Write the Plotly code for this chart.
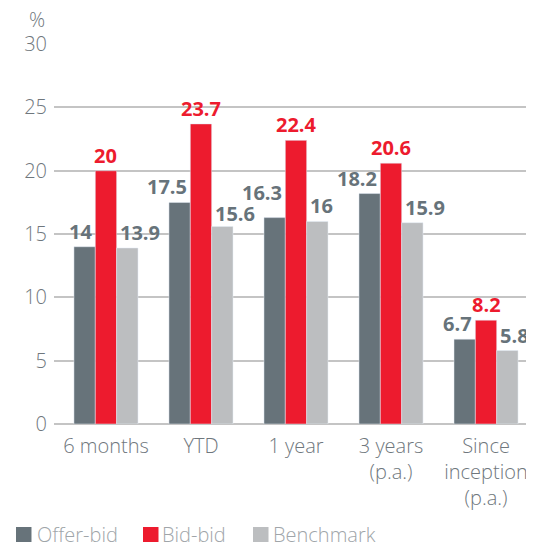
import plotly.graph_objects as go

categories = ["6 months", "YTD", "1 year", "3 years<br>(p.a.)", "Since<br>inception<br>(p.a.)"]
offer_bid = [14, 17.5, 16.3, 18.2, 6.7]
bid_bid = [20, 23.7, 22.4, 20.6, 8.2]
benchmark = [13.9, 15.6, 16, 15.9, 5.8]
series_names = ["Offer-bid", "Bid-bid", "Benchmark"]
y_ticks = [0, 5, 10, 15, 20, 25, 30]

C_OFFER = "#67737a"
C_BID = "#ed1b2e"
C_BENCH = "#bcbec0"
colors = [C_OFFER, C_BID, C_BENCH]
C_TEXT = "#6f777d"
C_LEG = "#a0a5a9"
GRID = "#c4c4c4"

FONT = "Open Sans"
FS = 20

fig = go.Figure()
for name, vals, col in zip(series_names, [offer_bid, bid_bid, benchmark], colors):
    fig.add_trace(go.Bar(name=name, x=categories, y=vals, marker_color=col, showlegend=False))

bargap = 0.326
bw = (1 - bargap) / 3
annos = []
for i in range(len(categories)):
    # simple collision rule: lift an offer-bid label if it sits close to the
    # previous group's benchmark label
    lift = 0
    drop = 0
    if i > 0 and abs(offer_bid[i] - benchmark[i - 1]) < 1.2:
        lift = 10
    if i + 1 < len(categories) and abs(offer_bid[i + 1] - benchmark[i]) < 1.2:
        drop = -3
    annos.append(dict(x=i - bw / 2, y=offer_bid[i], text=f"{offer_bid[i]:g}", xanchor="right",
                      yanchor="bottom", showarrow=False, xshift=-1, yshift=lift,
                      font=dict(family=FONT, size=FS, color=C_OFFER, weight=700)))
    annos.append(dict(x=i, y=bid_bid[i], text=f"{bid_bid[i]:g}", xanchor="center",
                      yanchor="bottom", showarrow=False,
                      font=dict(family=FONT, size=FS, color=C_BID, weight=700)))
    annos.append(dict(x=i + bw / 2, y=benchmark[i], text=f"{benchmark[i]:g}", xanchor="left",
                      yanchor="bottom", showarrow=False, xshift=1, yshift=drop,
                      font=dict(family=FONT, size=FS, color=C_OFFER, weight=700)))

annos.append(dict(xref="paper", yref="paper", x=-0.015, y=1.0645, text="%", xanchor="right",
                  yanchor="middle", showarrow=False,
                  font=dict(family=FONT, size=FS, color=C_TEXT, weight=300)))

# custom legend (squares + labels) below the plot
leg_sq_x = [-0.0792, 0.1854, 0.4146]
leg_txt_x = [-0.0396, 0.2208, 0.4521]
shapes = []
for name, col, sx, tx in zip(series_names, colors, leg_sq_x, leg_txt_x):
    shapes.append(dict(type="rect", xref="paper", yref="paper", x0=sx, x1=sx + 0.0323,
                       y0=-0.3105, y1=-0.2711, fillcolor=col, line=dict(width=0)))
    annos.append(dict(xref="paper", yref="paper", x=tx, y=-0.2921, text=name, xanchor="left",
                      yanchor="middle", showarrow=False,
                      font=dict(family=FONT, size=FS, color=C_LEG, weight=300)))

fig.update_layout(
    width=526, height=538,
    margin=dict(l=46, r=0, t=36, b=122, autoexpand=False),
    paper_bgcolor="white", plot_bgcolor="white",
    barmode="group", bargap=bargap, bargroupgap=0,
    font=dict(family=FONT, size=FS, color=C_TEXT, weight=300),
    showlegend=False,
    annotations=annos,
    shapes=shapes,
    xaxis=dict(range=[-0.547, 4.505], showgrid=False, showline=False, ticks="", automargin=False,
               ticklabelstandoff=8,
               tickfont=dict(family=FONT, size=FS, color=C_TEXT, weight=300), zeroline=False),
    yaxis=dict(range=[0, 30.01], tickvals=y_ticks, showgrid=True, gridcolor=GRID, gridwidth=2,
               zeroline=True, zerolinecolor=GRID, zerolinewidth=2, showline=False, ticks="",
               ticklabelstandoff=6, automargin=False,
               tickfont=dict(family=FONT, size=FS, color=C_TEXT, weight=300)),
)

fig.write_html("out.html")
